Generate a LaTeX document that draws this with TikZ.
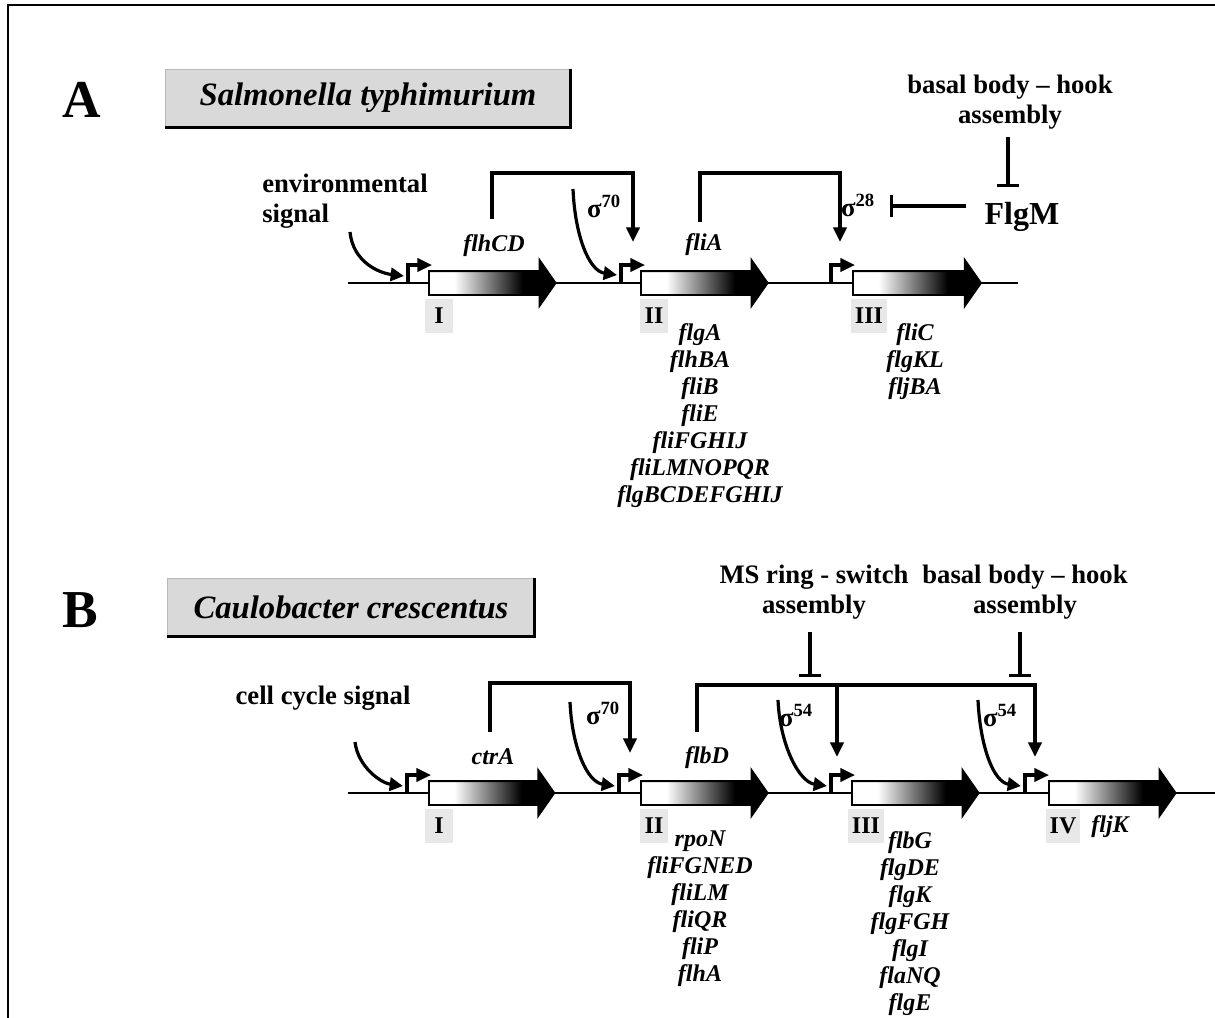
\documentclass[tikz,border=0pt]{standalone}
\usepackage{fontspec}
\setmainfont{Liberation Serif}
\usetikzlibrary{arrows.meta,shapes.arrows}
\pgfdeclarehorizontalshading{genegrad}{100bp}{color(0bp)=(white); color(35bp)=(white); color(62bp)=(black); color(100bp)=(black)}

\begin{document}
\begin{tikzpicture}[x=0.75pt,y=-0.75pt,
  txt/.style={font=\fontsize{20}{22.5}\selectfont\bfseries,align=center,inner sep=0pt},
  gname/.style={font=\fontsize{18}{20.25}\selectfont\bfseries\itshape,align=center,inner sep=0pt},
  sig/.style={font=\fontsize{20}{22.5}\selectfont\bfseries,inner sep=0pt},
  panel/.style={font=\fontsize{40}{44}\selectfont\bfseries,inner sep=0pt},
  title/.style={font=\fontsize{24.5}{28}\selectfont\bfseries\itshape,fill=gray!30,draw=gray!55,minimum height=43.5pt,inner sep=0pt},
  cls/.style={font=\fontsize{18}{20}\selectfont\bfseries,fill=gray!18,minimum width=21pt,minimum height=25pt,inner xsep=3pt},
  gene/.style={single arrow,draw,line width=1.4pt,shade,shading=genegrad,single arrow head extend=8.25pt,single arrow tip angle=110,minimum width=0pt,minimum height=#1,inner xsep=0pt,inner ysep=8.25pt,anchor=tail},
  dna/.style={line width=1.5pt},
  prom/.style={line width=2.3pt,-{Triangle[length=11pt,width=10pt]}},
  feed/.style={line width=2.4pt,-{Triangle[length=11pt,width=10pt]}},
  curv/.style={line width=2.4pt,-{Triangle[length=10pt,width=10pt]}},
  inh/.style={line width=2.4pt,-{Bar[width=16pt]}}]

\useasboundingbox (0,0) rectangle (1215,1018);
\draw[line width=2.2pt] (8,1018) -- (8,5) -- (1215,5);

% ---- panel A
\node[panel] (labA) at (82,100) {A};
\node[title,minimum width=304pt] (titA) at (368,98) {Salmonella typhimurium};
\draw[line width=2.2pt] (titA.north east) -- (titA.south east) -- (titA.south west);

\node[txt,align=left,anchor=west] (env) at (262,201) {environmental\\signal};

% DNA and promoters
\coordinate (dA0) at (348,283);
\coordinate (dA1) at (1018,283);
\draw[dna] (dA0) -- (dA1);
\coordinate (pA1) at (408,283);
\coordinate (pA2) at (621,283);
\coordinate (pA3) at (831,283);
\foreach \p in {pA1,pA2,pA3}
  \draw[prom] (\p) -- ++(0,-18) -- ++(24,0);

% genes
\node[gene=95pt] (gA1) at (428,283) {};
\node[gene=95pt] (gA2) at (640,283) {};
\node[gene=96pt] (gA3) at (852,283) {};

% class labels
\node[cls] (kA1) at (439,316) {I};
\node[cls] (kA2) at (654,316) {II};
\node[cls] (kA3) at (869,316) {III};

% regulators
\node[gname] (flhCD) at (494,246) {flhCD};
\node[gname] (fliA) at (704,245) {fliA};
\node[sig] (s70A) at (604,206) {σ\textsuperscript{70}};
\node[sig] (s28) at (858,205) {σ\textsuperscript{28}};
\node[font=\fontsize{24}{26}\selectfont\bfseries,inner sep=0pt] (flgm) at (1022,217) {FlgM};
\node[txt] (bbA) at (1010,102) {basal body – hook\\assembly};

\coordinate (bA1) at (350,232);
\coordinate (eA1) at (404,276);
\draw[curv] (bA1) .. controls +(3,30) and +(-25,-3) .. (eA1);
\coordinate (bA2) at (573,189);
\coordinate (eA2) at (617,275);
\draw[curv] (bA2) .. controls +(2,47) and +(-28,-4) .. (eA2);

\coordinate (cA1) at (492,219);
\coordinate (tA2) at (633,242);
\draw[feed] (cA1) -- ++(0,-46) -| (tA2);
\coordinate (cA2) at (700,222);
\coordinate (tA3) at (840,242);
\draw[feed] (cA2) -- ++(0,-49) -| (tA3);

\coordinate (iA) at (890,206);
\draw[inh] (flgm.west |- iA) ++(-18,0) -- (iA);
\coordinate (iF) at (1008,187);
\draw[inh] (bbA.south -| iF) ++(0,8) -- (iF);

% gene lists
\node[gname,anchor=north] (lA2) at (700,323) {flgA\\flhBA\\fliB\\fliE\\fliFGHIJ\\fliLMNOPQR\\flgBCDEFGHIJ};
\node[gname,anchor=north] (lA3) at (915,323) {fliC\\flgKL\\fljBA};

% ---- panel B
\node[panel] (labB) at (80,610) {B};
\node[title,minimum width=275pt] (titB) at (351,607) {Caulobacter crescentus};
\draw[line width=2.2pt] (titB.north east) -- (titB.south east) -- (titB.south west);

\node[txt] (ccs) at (323,698) {cell cycle signal};

\coordinate (dB0) at (348,793);
\coordinate (dB1) at (1215,793);
\draw[dna] (dB0) -- (dB1);
\coordinate (pB1) at (407,793);
\coordinate (pB2) at (619,793);
\coordinate (pB3) at (831,793);
\coordinate (pB4) at (1025,793);
\foreach \p in {pB1,pB2,pB3,pB4}
  \draw[prom] (\p) -- ++(0,-18) -- ++(24,0);

\node[gene=94pt] (gB1) at (428,793) {};
\node[gene=95pt] (gB2) at (640,793) {};
\node[gene=95pt] (gB3) at (851,793) {};
\node[gene=95pt] (gB4) at (1048,793) {};

\node[cls] (kB1) at (439,826) {I};
\node[cls] (kB2) at (654,826) {II};
\node[cls] (kB3) at (866,826) {III};
\node[cls] (kB4) at (1063,826) {IV};

\node[gname] (ctrA) at (493,757) {ctrA};
\node[gname] (flbD) at (707,758) {flbD};
\node[gname] (fljK) at (1110,827) {fljK};
\node[sig] (s70B) at (603,713) {σ\textsuperscript{70}};
\node[sig] (s54a) at (796,715) {σ\textsuperscript{54}};
\node[sig] (s54b) at (1000,715) {σ\textsuperscript{54}};
\node[txt] (msB) at (814,592) {MS ring - switch\\assembly};
\node[txt] (bbB) at (1025,592) {basal body – hook\\assembly};

\coordinate (bB1) at (355,742);
\coordinate (eB1) at (403,786);
\draw[curv] (bB1) .. controls +(3,25) and +(-22,-3) .. (eB1);
\coordinate (bB2) at (570,702);
\coordinate (eB2) at (615,786);
\draw[curv] (bB2) .. controls +(2,45) and +(-28,-4) .. (eB2);
\coordinate (bB3) at (778,700);
\coordinate (eB3) at (827,786);
\draw[curv] (bB3) .. controls +(2,45) and +(-28,-4) .. (eB3);
\coordinate (bB4) at (978,700);
\coordinate (eB4) at (1021,786);
\draw[curv] (bB4) .. controls +(2,45) and +(-28,-4) .. (eB4);

\coordinate (cB1) at (490,732);
\coordinate (tB2) at (630,753);
\draw[feed] (cB1) -- ++(0,-49) -| (tB2);
\coordinate (cB2) at (697,732);
\coordinate (jB3) at (837,685);
\coordinate (jB4) at (1035,685);
\coordinate (tB3) at (837,757);
\coordinate (tB4) at (1035,757);
\draw[feed] (cB2) |- (jB4) -- (tB4);
\draw[feed] (jB3) -- (tB3);

\coordinate (iB3) at (810,677);
\coordinate (iB4) at (1020,677);
\draw[inh] (msB.south -| iB3) ++(0,13) -- (iB3);
\draw[inh] (bbB.south -| iB4) ++(0,13) -- (iB4);

\node[gname,anchor=north] (lB2) at (700,831) {rpoN\\fliFGNED\\fliLM\\fliQR\\fliP\\flhA};
\node[gname,anchor=north] (lB3) at (910,831) {flbG\\flgDE\\flgK\\flgFGH\\flgI\\flaNQ\\flgE};
\end{tikzpicture}
\end{document}
